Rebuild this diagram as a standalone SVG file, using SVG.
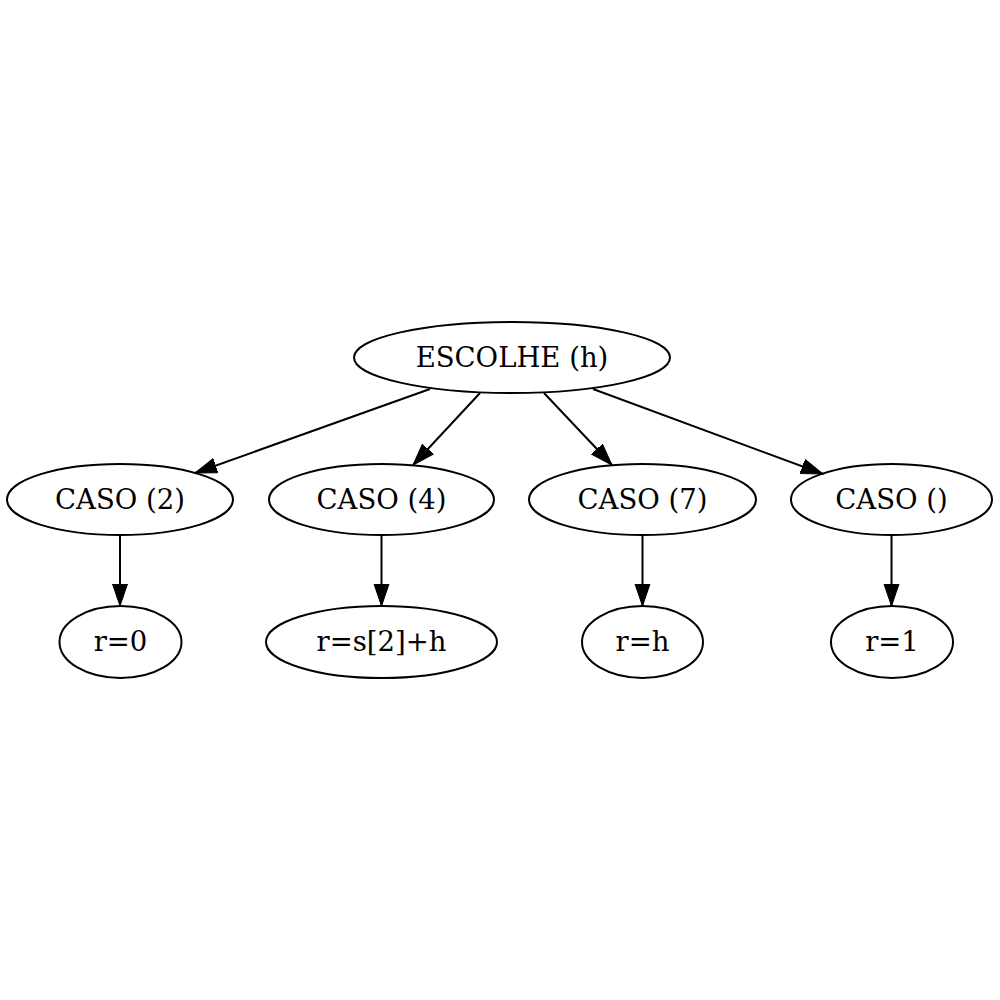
<svg xmlns="http://www.w3.org/2000/svg" width="1000" height="1000" viewBox="0 0 1000 1000">
<style>
.node ellipse{fill:none;stroke:#000;stroke-width:2}
.node text{font-family:"DejaVu Serif",serif;font-size:27.5px;text-anchor:middle;fill:#000}
.edges line{stroke:#000;stroke-width:2}
</style>
<defs>
<marker id="arr" markerUnits="userSpaceOnUse" markerWidth="24" markerHeight="18" refX="22" refY="8" orient="auto">
<path d="M0,0.5 L22,8 L0,15.5 Z" fill="#000" stroke="#000" stroke-width="1"/>
</marker>
</defs>
<rect width="1000" height="1000" fill="#fff"/>
<g id="edges" class="edges">
<line x1="430" y1="389" x2="195" y2="473" marker-end="url(#arr)"/>
<line x1="480" y1="393" x2="413" y2="465" marker-end="url(#arr)"/>
<line x1="544" y1="393" x2="612" y2="465" marker-end="url(#arr)"/>
<line x1="593" y1="389" x2="823" y2="474" marker-end="url(#arr)"/>
<line x1="120" y1="535" x2="120" y2="606" marker-end="url(#arr)"/>
<line x1="381.5" y1="535" x2="381.5" y2="606" marker-end="url(#arr)"/>
<line x1="642.5" y1="535" x2="642.5" y2="606" marker-end="url(#arr)"/>
<line x1="891.5" y1="535" x2="891.5" y2="606" marker-end="url(#arr)"/>
</g>
<g id="escolhe" class="node"><ellipse cx="512" cy="357.5" rx="158" ry="35.5"/><text x="512" y="367">ESCOLHE (h)</text></g>
<g id="caso2" class="node"><ellipse cx="120" cy="499.5" rx="113" ry="35.5"/><text x="120" y="509">CASO (2)</text></g>
<g id="caso4" class="node"><ellipse cx="381.5" cy="499.5" rx="112.5" ry="35.5"/><text x="381.5" y="509">CASO (4)</text></g>
<g id="caso7" class="node"><ellipse cx="642.5" cy="499.5" rx="113.5" ry="35.5"/><text x="642.5" y="509">CASO (7)</text></g>
<g id="casoe" class="node"><ellipse cx="891.5" cy="499.5" rx="100.5" ry="35.5"/><text x="891.5" y="509">CASO ()</text></g>
<g id="r0" class="node"><ellipse cx="120.5" cy="642" rx="61" ry="36"/><text x="120.5" y="651">r=0</text></g>
<g id="rs2h" class="node"><ellipse cx="381.5" cy="642" rx="115.5" ry="36"/><text x="381.5" y="651">r=s[2]+h</text></g>
<g id="rh" class="node"><ellipse cx="642.5" cy="642" rx="60.5" ry="36"/><text x="642.5" y="651">r=h</text></g>
<g id="r1" class="node"><ellipse cx="892" cy="642" rx="61" ry="36"/><text x="892" y="651">r=1</text></g>
</svg>
